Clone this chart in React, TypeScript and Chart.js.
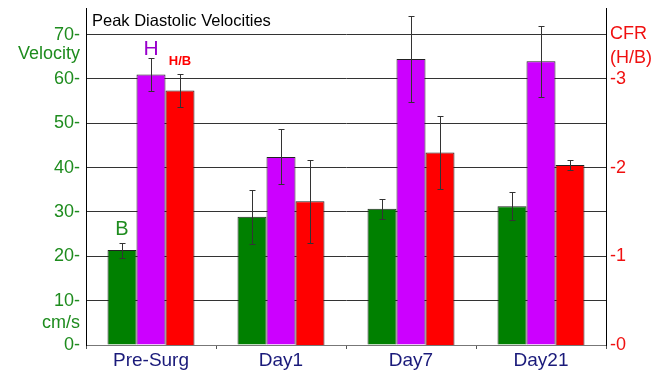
import React, { useEffect, useRef } from 'react';
import { Chart, registerables } from 'chart.js';

Chart.register(...registerables);

// Peak diastolic velocities (cm/s) and coronary flow reserve per time point
const categories = ['Pre-Surg', 'Day1', 'Day7', 'Day21'];
const baselineVelocity = [21.4, 28.9, 30.7, 31.3];
const baselineError = [1.7, 6.1, 2.3, 3.2];
const hyperemicVelocity = [61.0, 42.4, 64.5, 64.0];
const hyperemicError = [3.7, 6.2, 9.6, 8.0];
const cfrRatio = [2.87, 1.62, 2.17, 2.03];
const cfrError = [0.19, 0.47, 0.41, 0.055];

const velocityTicks = [0, 10, 20, 30, 40, 50, 60, 70];
const cfrTicks = [0, 1, 2, 3];
const VELOCITY_MAX = 76;
const CFR_MAX = 3.8;

const FONT = '"Liberation Sans", Arial, Helvetica, sans-serif';
const GREEN = '#008000';
const PURPLE = '#cc00ff';
const RED = '#ff0000';
const LABEL_GREEN = '#1e8c1e';
const LABEL_RED = '#f01010';
const NAVY = '#1a1a7a';

const errorBarPlugin = {
  id: 'errorBars',
  afterDatasetsDraw(chart: any) {
    const ctx = chart.ctx;
    ctx.save();
    ctx.strokeStyle = '#333';
    ctx.lineWidth = 1;
    chart.data.datasets.forEach((ds: any, i: number) => {
      const meta = chart.getDatasetMeta(i);
      const yScale = chart.scales[meta.yAxisID];
      meta.data.forEach((bar: any, j: number) => {
        const v = ds.data[j];
        const e = ds.errors[j];
        const x = Math.round(bar.x) + 0.5;
        const top = Math.round(yScale.getPixelForValue(v + e)) + 0.5;
        const bot = Math.round(yScale.getPixelForValue(v - e)) + 0.5;
        ctx.beginPath();
        ctx.moveTo(x, top);
        ctx.lineTo(x, bot);
        ctx.moveTo(x - 3, top);
        ctx.lineTo(x + 3, top);
        ctx.moveTo(x - 3, bot);
        ctx.lineTo(x + 3, bot);
        ctx.stroke();
      });
    });
    ctx.restore();
  },
};

const textPlugin = {
  id: 'chartTexts',
  afterDraw(chart: any) {
    const ctx = chart.ctx;
    const area = chart.chartArea;
    const y = chart.scales.y;
    const y1 = chart.scales.y1;
    ctx.save();
    ctx.textBaseline = 'middle';

    // title inside the plot
    ctx.fillStyle = '#000';
    ctx.font = `16.5px ${FONT}`;
    ctx.textAlign = 'left';
    ctx.fillText('Peak Diastolic Velocities', area.left + 6, area.top + 13);

    // left axis units
    ctx.fillStyle = LABEL_GREEN;
    ctx.font = `18px ${FONT}`;
    ctx.textAlign = 'right';
    ctx.fillText('Velocity', area.left - 6, y.getPixelForValue(65.7));
    ctx.fillText('cm/s', area.left - 6, y.getPixelForValue(5));

    // right axis units
    ctx.fillStyle = LABEL_RED;
    ctx.textAlign = 'left';
    ctx.fillText('CFR', area.right + 4, y1.getPixelForValue(3.51));
    ctx.fillText('(H/B)', area.right + 4, y1.getPixelForValue(3.24));

    // series markers above the first group
    const names = [
      { text: 'B', color: LABEL_GREEN, font: `20px ${FONT}`, gap: 13 },
      { text: 'H', color: '#9900cc', font: `21px ${FONT}`, gap: 9 },
      { text: 'H/B', color: RED, font: `bold 13px ${FONT}`, gap: 12 },
    ];
    chart.data.datasets.forEach((ds: any, i: number) => {
      const meta = chart.getDatasetMeta(i);
      const scale = chart.scales[meta.yAxisID];
      const bar = meta.data[0];
      const topPx = scale.getPixelForValue(ds.data[0] + ds.errors[0]);
      ctx.fillStyle = names[i].color;
      ctx.font = names[i].font;
      ctx.textAlign = 'center';
      ctx.fillText(names[i].text, bar.x, topPx - names[i].gap);
    });
    ctx.restore();
  },
};

function zeroPadding(scale: any) {
  scale.paddingTop = 0;
  scale.paddingBottom = 0;
  scale.paddingLeft = 0;
  scale.paddingRight = 0;
}

export default function App() {
  const canvasRef = useRef<HTMLCanvasElement | null>(null);

  useEffect(() => {
    const canvas = canvasRef.current;
    if (!canvas) return;
    const chart = new Chart(canvas, {
      type: 'bar',
      data: {
        labels: categories,
        datasets: [
          {
            label: 'B',
            data: baselineVelocity,
            errors: baselineError,
            yAxisID: 'y',
            backgroundColor: GREEN,
            borderColor: '#222',
            borderWidth: 1,
          } as any,
          {
            label: 'H',
            data: hyperemicVelocity,
            errors: hyperemicError,
            yAxisID: 'y',
            backgroundColor: PURPLE,
            borderColor: '#222',
            borderWidth: 1,
          } as any,
          {
            label: 'H/B',
            data: cfrRatio,
            errors: cfrError,
            yAxisID: 'y1',
            backgroundColor: RED,
            borderColor: '#222',
            borderWidth: 1,
          } as any,
        ],
      },
      options: {
        animation: false,
        responsive: true,
        maintainAspectRatio: false,
        layout: { padding: { top: 8, left: 0, right: 0, bottom: 0 } },
        datasets: {
          bar: { categoryPercentage: 0.669, barPercentage: 1 },
        },
        plugins: {
          legend: { display: false },
          tooltip: { enabled: false },
          title: { display: false },
        },
        scales: {
          x: {
            offset: true,
            grid: {
              display: true,
              offset: true,
              drawOnChartArea: false,
              drawTicks: true,
              tickLength: 4,
              color: '#555',
            },
            border: { display: true, color: '#777', width: 1 },
            ticks: {
              color: NAVY,
              font: { family: FONT, size: 19 },
              padding: 0,
              maxRotation: 0,
            },
            afterFit(scale: any) {
              scale.height = 27;
              zeroPadding(scale);
            },
          },
          y: {
            position: 'left',
            min: 0,
            max: VELOCITY_MAX,
            afterBuildTicks(scale: any) {
              scale.ticks = velocityTicks.map((v) => ({ value: v }));
            },
            grid: { color: '#333', drawTicks: false, lineWidth: 1 },
            border: { display: true, color: '#000', width: 1 },
            ticks: {
              color: LABEL_GREEN,
              font: { family: FONT, size: 18 },
              padding: 6,
              callback: (v: any) => `${v}-`,
            },
            afterFit(scale: any) {
              scale.width = 86;
              zeroPadding(scale);
            },
          },
          y1: {
            position: 'right',
            min: 0,
            max: CFR_MAX,
            afterBuildTicks(scale: any) {
              scale.ticks = cfrTicks.map((v) => ({ value: v }));
            },
            grid: { display: false, drawTicks: false },
            border: { display: true, color: '#000', width: 1 },
            ticks: {
              color: LABEL_RED,
              font: { family: FONT, size: 18 },
              padding: 4,
              callback: (v: any) => `-${v}`,
            },
            afterFit(scale: any) {
              scale.width = 56;
              zeroPadding(scale);
            },
          },
        },
      } as any,
      plugins: [errorBarPlugin, textPlugin],
    });
    return () => chart.destroy();
  }, []);

  return (
    <div style={{ position: 'fixed', left: 0, top: 0, width: 662, height: 372, background: '#fff' }}>
      <canvas ref={canvasRef} />
    </div>
  );
}
